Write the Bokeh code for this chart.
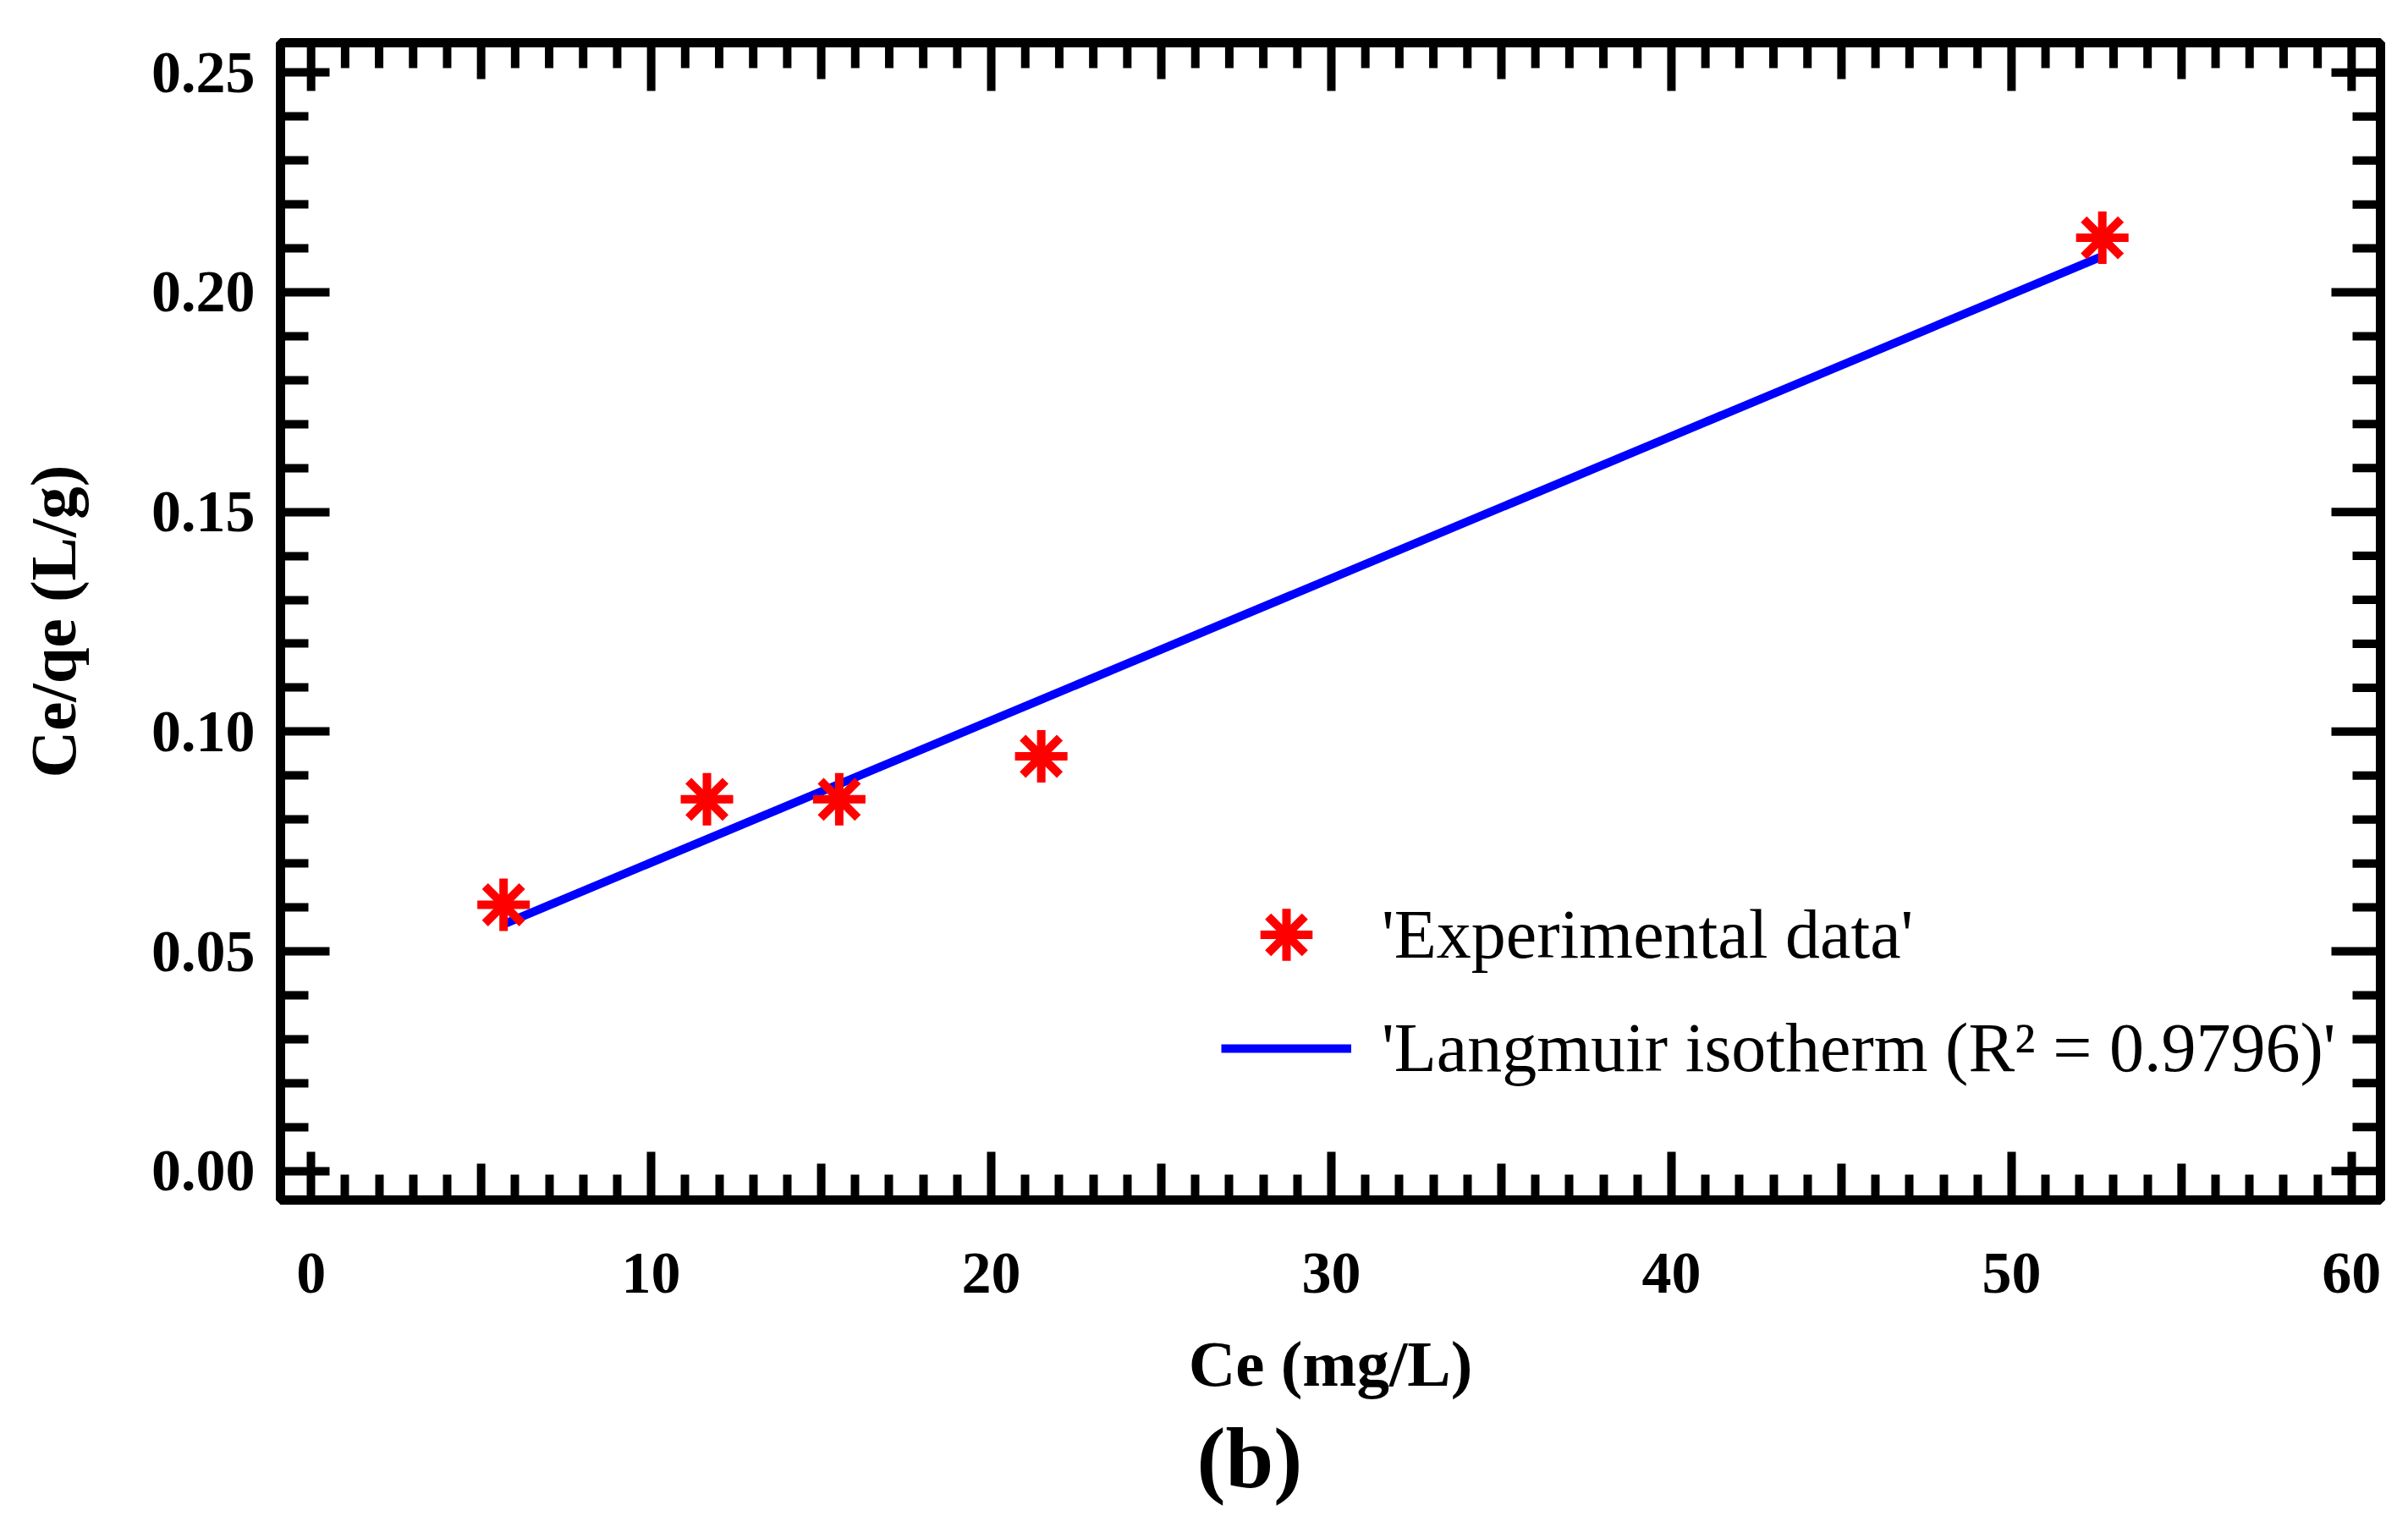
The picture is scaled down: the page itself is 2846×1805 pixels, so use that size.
from math import pi

from bokeh.plotting import figure
from bokeh.models import (LinearAxis, FixedTicker, PrintfTickFormatter,
                          Legend, LegendItem, Title)
from bokeh.embed import file_html
from bokeh.resources import INLINE

# values
ce = [5.66, 11.64, 15.53, 21.47, 52.67]          # Ce (mg/L)
ce_qe = [0.0606, 0.0846, 0.0846, 0.0944, 0.2124]  # Ce/qe (L/g)

# fitted Langmuir line, end points
fit_ce = [5.7, 52.7]
fit_ce_qe = [0.0563, 0.2083]

# tick positions
x_major_ticks = [0, 10, 20, 30, 40, 50, 60]
x_mid_ticks = [5, 15, 25, 35, 45, 55]
x_minor_ticks = [v for v in range(61) if v % 5]
y_major_ticks = [0.00, 0.05, 0.10, 0.15, 0.20, 0.25]
y_minor_ticks = [round(i * 0.01, 2) for i in range(26) if i % 5]

FONT = "Liberation Serif"
TICK_W = 10

p = figure(width=2830, height=1789,
           x_range=(-0.9, 60.85), y_range=(-0.0066, 0.2568),
           x_axis_type=None, y_axis_type=None,
           tools="", toolbar_location=None, output_backend="svg",
           min_border_left=331, min_border_right=17,
           min_border_top=50, min_border_bottom=371)
p.xgrid.visible = False
p.ygrid.visible = False
p.outline_line_color = "black"
p.outline_line_width = 11


def style_axis(ax):
    ax.axis_line_color = None
    ax.major_tick_out = 0
    ax.minor_tick_out = 0
    ax.major_tick_line_width = TICK_W
    ax.minor_tick_line_width = TICK_W
    ax.major_tick_line_color = "black"
    ax.minor_tick_line_color = "black"
    ax.major_label_text_font = FONT
    ax.major_label_text_font_style = "bold"
    ax.major_label_text_font_size = "70px"
    ax.major_label_text_color = "black"
    ax.axis_label_text_font = FONT
    ax.axis_label_text_font_style = "bold"
    ax.axis_label_text_font_size = "77px"
    ax.axis_label_text_color = "black"


xb = LinearAxis(ticker=FixedTicker(ticks=x_major_ticks, minor_ticks=x_minor_ticks))
style_axis(xb)
xb.major_tick_in = 57
xb.minor_tick_in = 30
xb.axis_label = "Ce (mg/L)"
xb.major_label_standoff = 63
xb.axis_label_standoff = 38
p.add_layout(xb, "below")

yl = LinearAxis(ticker=FixedTicker(ticks=y_major_ticks, minor_ticks=y_minor_ticks),
                formatter=PrintfTickFormatter(format="%.2f"))
style_axis(yl)
yl.major_tick_in = 58
yl.minor_tick_in = 33
yl.axis_label = "Ce/qe (L/g)"
yl.major_label_standoff = 30
yl.axis_label_standoff = 70
p.add_layout(yl, "left")

# inward ticks along the bottom (every 5), top and right edges
y0, y1 = p.y_range.start, p.y_range.end
x1 = p.x_range.end
tick = dict(length_units="screen", line_color="black", line_width=TICK_W)
p.ray(x=x_mid_ticks, y=[y0] * len(x_mid_ticks), length=43, angle=pi / 2, **tick)
p.ray(x=x_major_ticks, y=[y1] * len(x_major_ticks), length=57, angle=-pi / 2, **tick)
p.ray(x=x_mid_ticks, y=[y1] * len(x_mid_ticks), length=43, angle=-pi / 2, **tick)
p.ray(x=x_minor_ticks, y=[y1] * len(x_minor_ticks), length=30, angle=-pi / 2, **tick)
p.ray(x=[x1] * len(y_major_ticks), y=y_major_ticks, length=58, angle=pi, **tick)
p.ray(x=[x1] * len(y_minor_ticks), y=y_minor_ticks, length=33, angle=pi, **tick)

r_fit = p.line(fit_ce, fit_ce_qe, line_color="#0000ff", line_width=10)
r_plus = p.scatter(ce, ce_qe, marker="cross", size=62,
                   line_color="#ff0000", line_width=10)
r_x = p.scatter(ce, ce_qe, marker="x", size=62,
                line_color="#ff0000", line_width=10)


def make_legend(items, gh, loc):
    lg = Legend(items=items, location=loc)
    lg.glyph_width = 154
    lg.glyph_height = gh
    lg.label_height = gh
    lg.label_standoff = 36
    lg.spacing = 0
    lg.padding = 0
    lg.margin = 0
    lg.border_line_color = None
    lg.background_fill_alpha = 0
    lg.label_text_font = FONT
    lg.label_text_font_size = "82px"
    lg.label_text_color = "black"
    return lg


p.add_layout(make_legend(
    [LegendItem(label="'Experimental data'", renderers=[r_plus, r_x])],
    155, (1112, 236)))
p.add_layout(make_legend(
    [LegendItem(label="'Langmuir isotherm (R\u00b2 = 0.9796)'", renderers=[r_fit])],
    100, (1112, 129)))

# panel letter under the axis title
p.add_layout(Title(text="(b)", align="left", offset=1083, standoff=15,
                   text_font=FONT, text_font_style="bold", text_color="black",
                   text_font_size="102px"), "below")

open("out.html", "w").write(file_html(p, INLINE))
